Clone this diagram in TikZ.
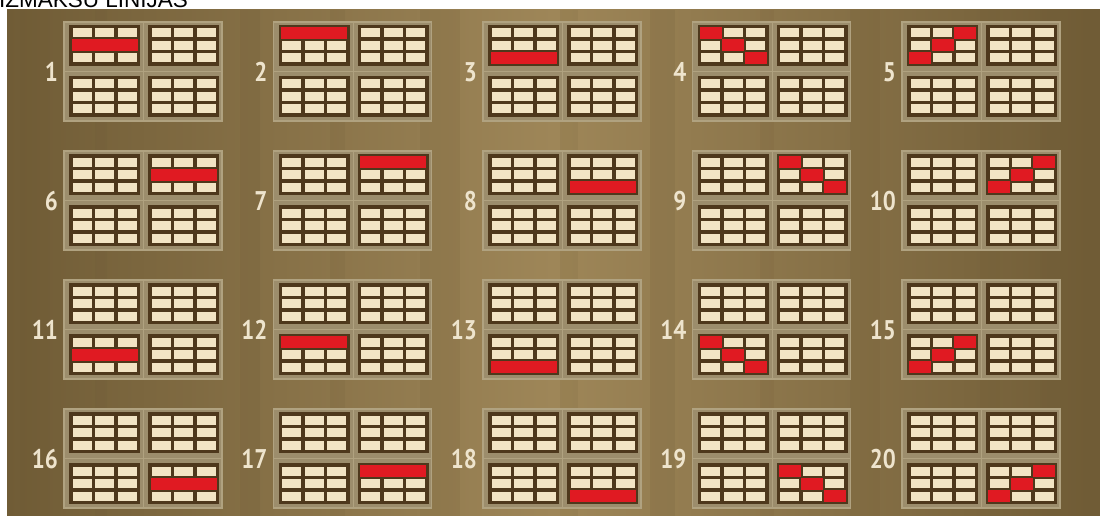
\documentclass[tikz,border=0pt]{standalone}
\usepackage{fontspec}
\setmainfont{Liberation Sans}
\newfontfamily\numfont[FakeStretch=0.85]{PT Sans}
\usetikzlibrary{calc}
\definecolor{bgdark}{RGB}{112,92,54}
\definecolor{bgmid}{RGB}{140,117,72}
\definecolor{bglight}{RGB}{158,134,88}
\definecolor{panelgray}{RGB}{156,141,108}
\definecolor{panelrim}{RGB}{176,162,128}
\definecolor{gridbrown}{RGB}{78,56,28}
\definecolor{cellcream}{RGB}{242,228,196}
\definecolor{linered}{RGB}{224,26,34}
\definecolor{numcream}{RGB}{238,228,205}
\tikzset{
  linenum/.style={anchor=east,inner sep=0pt,text=numcream,
    font=\numfont\bfseries\fontsize{27}{27}\selectfont},
  redcell/.style={fill=linered},
}

\begin{document}
\begin{tikzpicture}[x=1pt,y=-1pt]
  \useasboundingbox (0,0) rectangle (1100,516);
  % virsraksts (augšā nogriezts)
  \node[anchor=base west,inner sep=0pt,font=\fontsize{22.5}{22.5}\selectfont] (title) at (-1,7.5) {IZMAKSU LĪNIJAS};
  % fons ar vertikālām svītrām
  \shade[left color=bgdark,right color=bgdark,middle color=bglight] (7,10) rectangle (1100,516);
  \foreach \sx/\sw/\op in {20/30/0.25,95/12/0.15,240/20/0.2,330/15/0.12,420/40/0.15,
      560/18/0.12,650/25/0.18,760/14/0.12,850/30/0.15,980/20/0.2,1040/60/0.3}
    \fill[bgdark,opacity=\op] (\sx,10) rectangle ++(\sw,506);
  % 20 līniju paneļi
  \foreach \k in {1,...,20} {
    \pgfmathtruncatemacro{\c}{mod(\k-1,5)}
    \pgfmathtruncatemacro{\r}{div(\k-1,5)}
    \pgfmathsetmacro{\px}{64+209.5*\c}
    \pgfmathsetmacro{\py}{22+129*\r}
    \fill[panelgray] (\px,\py) rectangle ++(158,99);
    \draw[panelrim,line width=1.2pt] (\px,\py) rectangle ++(158,99);
    \draw[panelrim,line width=1pt] (\px+79.5,\py) -- ++(0,99) (\px,\py+49.5) -- ++(158,0);
    \node[linenum] (n\k) at (\px-6,\py+50) {\k};
    % četri 3x3 bloki
    \foreach \qx/\qy in {5/3,84/3,5/54,84/54} {
      \fill[gridbrown] (\px+\qx,\py+\qy) rectangle ++(71,41);
      \foreach \i in {0,1,2}
        \foreach \j in {0,1,2}
          \fill[cellcream] (\px+\qx+3.5+\i*22.5,\py+\qy+3.5+\j*12.5) rectangle ++(19,9);
    }
    % sarkanā līnija: bloks pēc rindas, forma pēc kolonnas
    \pgfmathsetmacro{\rx}{\px+(mod(\r,2)==0 ? 5 : 84)}
    \pgfmathsetmacro{\ry}{\py+(\r<2 ? 3 : 54)}
    \ifcase\c
      \fill[redcell] (\rx+2.5,\ry+14.5) rectangle ++(66,12);
    \or
      \fill[redcell] (\rx+2.5,\ry+2) rectangle ++(66,12);
    \or
      \fill[redcell] (\rx+2.5,\ry+27) rectangle ++(66,12);
    \or
      \foreach \i in {0,1,2}
        \fill[redcell] (\rx+2+\i*22.5,\ry+2+\i*12.5) rectangle ++(22,12);
    \or
      \foreach \i in {0,1,2}
        \fill[redcell] (\rx+2+\i*22.5,\ry+27-\i*12.5) rectangle ++(22,12);
    \fi
  }
\end{tikzpicture}
\end{document}
